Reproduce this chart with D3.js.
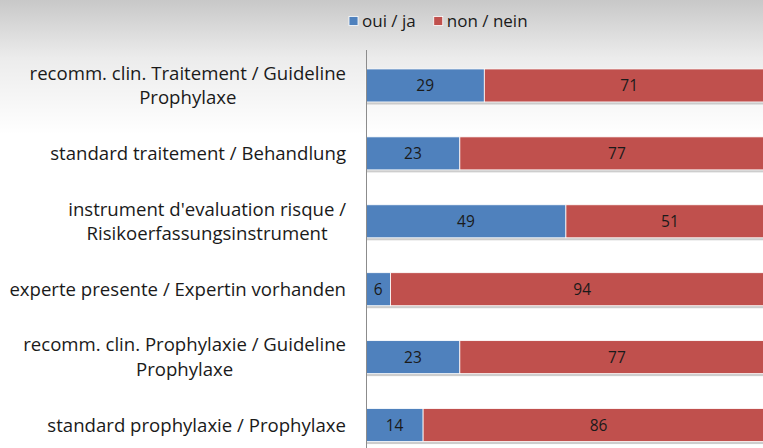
<!DOCTYPE html>
<html><head><meta charset="utf-8">
<script src="https://cdn.jsdelivr.net/npm/d3@7"></script>
<style>html,body{margin:0;padding:0;overflow:hidden;background:#fff}</style>
</head><body>
<script>
const categories = [
  "recomm. clin. Traitement / Guideline|Prophylaxe",
  "standard traitement / Behandlung",
  "instrument d'evaluation risque /|Risikoerfassungsinstrument",
  "experte presente / Expertin vorhanden",
  "recomm. clin. Prophylaxie / Guideline|Prophylaxe",
  "standard prophylaxie / Prophylaxe"
];
const seriesNames = ["oui / ja", "non / nein"];
const ouiValues = [29, 23, 49, 6, 23, 14];
const nonValues = [71, 77, 51, 94, 77, 86];
const colors = ["#4f81bd", "#c0504d"];

const W = 763, H = 448;
const FONT = "'Open Sans', 'Noto Sans', sans-serif";
const svg = d3.select("body").append("svg").attr("width", W).attr("height", H);
const defs = svg.append("defs");
const grad = defs.append("linearGradient").attr("id","bg").attr("x1",0).attr("y1",0).attr("x2",0).attr("y2",1);
grad.append("stop").attr("offset","0%").attr("stop-color","#c8c8c8");
grad.append("stop").attr("offset","13%").attr("stop-color","#ececec");
grad.append("stop").attr("offset","30%").attr("stop-color","#ffffff");
grad.append("stop").attr("offset","100%").attr("stop-color","#ffffff");
svg.append("rect").attr("width",W).attr("height",H).attr("fill","url(#bg)");

const x = d3.scaleLinear().domain([0,100]).range([366, 774]);
const y = d3.scaleBand().domain(categories).range([51.5, 459]).paddingInner(0.514).paddingOuter(0.257);

const rows = categories.map((c,i)=>({cat:c, segs:[
  {s:0, x0:0, x1:ouiValues[i], v:ouiValues[i]},
  {s:1, x0:ouiValues[i], x1:ouiValues[i]+nonValues[i], v:nonValues[i]}
]}));

const g = svg.append("g");
g.selectAll("rect.sh").data(rows).join("rect").attr("class","sh")
  .attr("x", x(0)).attr("y", d=>y(d.cat)+y.bandwidth()-0.5)
  .attr("width", x(100)-x(0)).attr("height", 3)
  .attr("fill", "#b8b8b8").attr("opacity", 0.7);

const rowG = g.selectAll("g.row").data(rows).join("g").attr("class","row");
rowG.selectAll("rect").data(d=>d.segs.map(s=>({...s, cat:d.cat}))).join("rect")
  .attr("x", d=>x(d.x0)).attr("y", d=>y(d.cat))
  .attr("width", d=>x(d.x1)-x(d.x0)).attr("height", y.bandwidth())
  .attr("fill", d=>colors[d.s]).attr("stroke","#ffffff").attr("stroke-width",0.8);
rowG.selectAll("text").data(d=>d.segs.map(s=>({...s, cat:d.cat}))).join("text")
  .attr("x", d=>(x(d.x0)+x(d.x1))/2).attr("y", d=>y(d.cat)+y.bandwidth()/2)
  .attr("dy","0.36em").attr("text-anchor","middle")
  .attr("font-family",FONT).attr("font-size",15.5).attr("fill","#1a1a1a")
  .text(d=>d.v);

const yAxis = d3.axisLeft(y).tickSize(0).tickFormat("");
const ax = svg.append("g").attr("transform",`translate(${x(0)},0)`).call(yAxis);
ax.select(".domain").attr("d", `M0.5,50V448`).attr("stroke","#8c8c8c").attr("stroke-width",1);

const labG = svg.append("g");
categories.forEach(c=>{
  const lines = c.split("|");
  const t = labG.append("text").attr("font-family",FONT).attr("font-size",18.6).attr("fill","#1a1a1a");
  const lh = 24.5;
  const cy = y(c)+y.bandwidth()/2;
  const spans = lines.map((l,i)=>t.append("tspan").text(l)
      .attr("y", cy + (i-(lines.length-1)/2)*lh).attr("dy","0.35em"));
  const widths = spans.map(s=>s.node().getComputedTextLength());
  const maxW = d3.max(widths);
  const right = 346;
  spans.forEach(s=>{ s.attr("x", right - maxW/2).attr("text-anchor","middle"); });
});

const leg = svg.append("g");
let lx = 349;
seriesNames.forEach((n,i)=>{
  leg.append("rect").attr("x",lx).attr("y",16.5).attr("width",9).attr("height",9)
    .attr("fill",colors[i]).attr("stroke","#ffffff").attr("stroke-width",0.8);
  const t = leg.append("text").attr("x",lx+13).attr("y",21).attr("dy","0.35em")
    .attr("font-family",FONT).attr("font-size",17).attr("fill","#1a1a1a").text(n);
  lx += 13 + t.node().getComputedTextLength() + 18;
});
</script>
</body></html>
